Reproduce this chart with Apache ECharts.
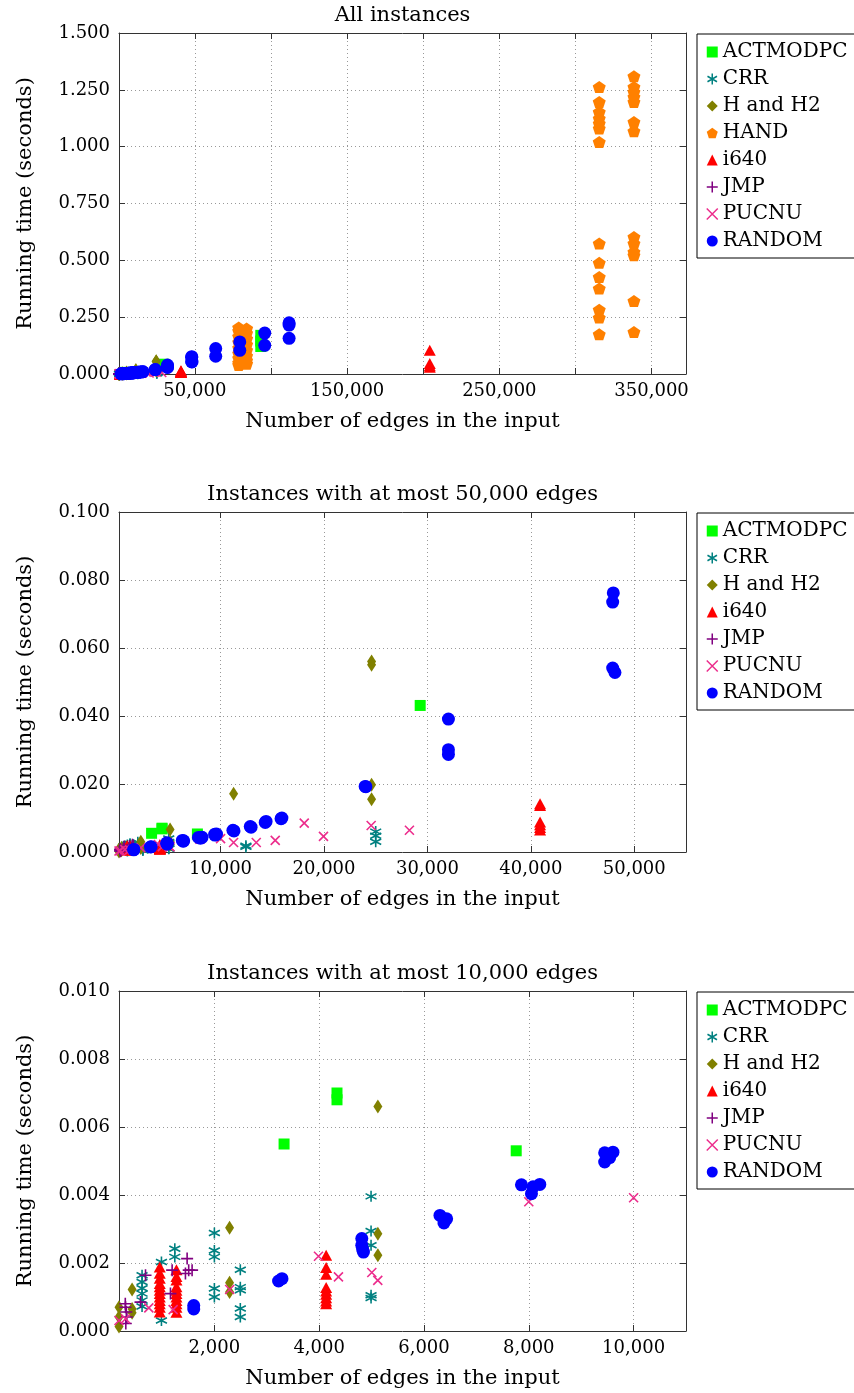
<!DOCTYPE html>
<html><head><meta charset="utf-8">
<script src="https://cdn.jsdelivr.net/npm/echarts@6/dist/echarts.min.js"></script>
<style>html,body{margin:0;padding:0;background:#fff}#c{width:854px;height:1393px}</style>
</head><body><div id="c"></div>
<script>
// ---------- data: [number of edges, running time in seconds] ----------
const families = ['ACTMODPC','CRR','H and H2','HAND','i640','JMP','PUCNU','RANDOM'];

const ACTMODPC = [[3330,0.0055],[4340,0.0070],[4340,0.0068],[7760,0.0053],[29300,0.0431],
  [93300,0.170],[93300,0.145],[93300,0.121]];

const CRR = [[620,0.00164],[620,0.00144],[620,0.00126],[620,0.0011],[620,0.0009],[620,0.00072],
  [990,0.00203],[990,0.00031],[1245,0.00242],[1245,0.00218],
  [2000,0.00288],[2000,0.00237],[2000,0.00218],[2000,0.00125],[2000,0.001],
  [2495,0.0018],[2495,0.00129],[2495,0.0012],[2495,0.00066],[2495,0.00041],
  [4990,0.00396],[4990,0.00294],[4990,0.00252],[4990,0.00105],[4990,0.00097],
  [12450,0.00185],[12450,0.0015],[25000,0.006],[25000,0.0048],[25000,0.003]];

const H_AND_H2 = [[180,0.0007],[180,0.00041],[180,0.00013],[430,0.00122],[430,0.00065],[430,0.00054],
  [2290,0.00304],[2290,0.00142],[2290,0.00115],[5120,0.0066],[5120,0.00286],[5120,0.00223],
  [11260,0.0171],[24600,0.056],[24600,0.0551],[24600,0.0198],[24600,0.0155]];

const HAND = [[78800,0.205],[78800,0.19],[78800,0.165],[78800,0.14],[78800,0.115],[78800,0.09],[78800,0.07],[78800,0.05],[78800,0.04],
  [84000,0.2],[84000,0.18],[84000,0.155],[84000,0.13],[84000,0.105],[84000,0.08],[84000,0.06],[84000,0.045],
  [315600,1.263],[315600,1.197],[315600,1.153],[315600,1.124],[315600,1.102],[315600,1.080],[315600,1.021],
  [315600,0.574],[315600,0.489],[315600,0.427],[315600,0.376],[315600,0.283],[315600,0.248],[315600,0.175],
  [338400,1.310],[338400,1.263],[338400,1.241],[338400,1.219],[338400,1.197],[338400,1.109],[338400,1.068],
  [338400,0.603],[338400,0.574],[338400,0.537],[338400,0.522],[338400,0.321],[338400,0.185]];

const I640 = [[958,0.00188],[958,0.0017],[958,0.00155],[958,0.0014],[958,0.0013],[958,0.0012],[958,0.0011],[958,0.001],[958,0.0009],[958,0.0008],[958,0.0007],[958,0.00056],
  [1276,0.0018],[1276,0.0016],[1276,0.0015],[1276,0.0013],[1276,0.0012],[1276,0.0011],[1276,0.001],[1276,0.0009],[1276,0.0008],[1276,0.0007],[1276,0.00055],
  [4133,0.00223],[4133,0.00187],[4133,0.00167],[4133,0.00128],[4133,0.00118],[4133,0.00108],[4133,0.00098],[4133,0.00088],[4133,0.0008],
  [40890,0.0142],[40890,0.0137],[40890,0.0088],[40890,0.008],[40890,0.0072],[40890,0.0065],
  [204300,0.104],[204300,0.046],[204300,0.036],[204300,0.03]];

const JMP = [[300,0.0008],[305,0.0007],[320,0.00056],[330,0.00041],[310,0.00022],[590,0.00085],[686,0.00164],
  [1162,0.0011],[1194,0.00179],[1448,0.00169],[1480,0.00213],[1510,0.00179],[1575,0.00179]];

const PUCNU = [[180,0.00031],[305,0.00036],[749,0.00068],[1213,0.00063],[2292,0.00122],[3987,0.0022],
  [4368,0.00159],[5004,0.00172],[5118,0.00149],[8000,0.0038],[10000,0.00392],[11257,0.0028],
  [13450,0.0028],[15285,0.0034],[18090,0.0085],[19950,0.0046],[24560,0.0078],[28260,0.0064]];

const RANDOM = [[1606,0.00075],[1606,0.00065],[3225,0.00147],[3290,0.00154],
  [4813,0.00272],[4813,0.00252],[4830,0.0024],[4845,0.00232],[6305,0.0034],[6432,0.0033],[6381,0.00318],
  [7860,0.0043],[8082,0.00424],[8210,0.00431],[8051,0.00404],[9448,0.00524],[9606,0.00526],[9543,0.0051],[9448,0.00497],
  [11195,0.0064],[11300,0.0062],[12870,0.0075],[12950,0.0073],[14320,0.0087],[14400,0.009],[15930,0.01],[15850,0.0098],
  [23980,0.0193],[24050,0.0192],[32030,0.0391],[32030,0.0301],[32030,0.0287],
  [47970,0.0762],[47910,0.0735],[47910,0.0541],[48130,0.0528],
  [63700,0.112],[63700,0.078],[79500,0.141],[79500,0.104],[95900,0.18],[95900,0.126],
  [111900,0.225],[111900,0.215],[111900,0.157]];

// ---------- panels ----------
const panelTitles = ['All instances','Instances with at most 50,000 edges','Instances with at most 10,000 edges'];
const edgeLimits = [Infinity, 50000, 10000];
const xMins = [180, 180, 180];
const xMaxs = [372600, 55000, 11000];
const yMaxs = [1.5, 0.1, 0.01];
const ySteps = [0.25, 0.02, 0.002];
const xTicks = [[50000,100000,150000,200000,250000,300000,350000],[10000,20000,30000,40000,50000],[2000,4000,6000,8000,10000]];
const xTickLabels = [[50000,150000,250000,350000],[10000,20000,30000,40000,50000],[2000,4000,6000,8000,10000]];
const xName = 'Number of edges in the input';
const yName = 'Running time (seconds)';

// ---------- layout / style ----------
const seriesData = {'ACTMODPC':ACTMODPC,'CRR':CRR,'H and H2':H_AND_H2,'HAND':HAND,'i640':I640,'JMP':JMP,'PUCNU':PUCNU,'RANDOM':RANDOM};
const STYLE = {
  'ACTMODPC': {symbol:'rect', size:11, color:'#00ff00'},
  'CRR': {symbol:'path://M5,0L5,10M0.67,2.5L9.33,7.5M0.67,7.5L9.33,2.5', size:11, color:'#008080', stroke:true},
  'H and H2': {symbol:'diamond', size:[9,14], color:'#808000'},
  'HAND': {symbol:'path://M50,0L97.55,34.55L79.39,90.45L20.61,90.45L2.45,34.55Z', size:[13,12], color:'#ff8000'},
  'i640': {symbol:'triangle', size:[12,11], color:'#ff0000'},
  'JMP': {symbol:'path://M5,0L5,10M0,5L10,5', size:12, color:'#800080', stroke:true},
  'PUCNU': {symbol:'path://M0,0L10,10M0,10L10,0', size:9, color:'#ec2c8c', stroke:true},
  'RANDOM': {symbol:'circle', size:13, color:'#0000ff'}
};
const FONT = '"DejaVu Serif", serif';
const TOPS = [33, 512, 991];
const HEIGHTS = [341, 340, 340];
const TITLE_Y = [16, 495, 974];
const fmtInt = v => String(Math.round(v)).replace(/\B(?=(\d{3})+(?!\d))/g, ',');

const grid=[], xAxis=[], yAxis=[], series=[], legend=[], graphic=[];
const axisLine = {show:true, onZero:false, lineStyle:{color:'#333', width:1}};
const split = {show:true, lineStyle:{color:'#999', type:[1,3], width:1}};
const tickStyle = {color:'#333', width:1};

for (let i=0;i<3;i++){
  grid.push({left:119, top:TOPS[i], width:567, height:HEIGHTS[i], containLabel:false, outerBoundsMode:'none'});
  xAxis.push({gridIndex:i, type:'value', position:'bottom', min:xMins[i], max:xMaxs[i],
    axisLine, axisTick:{show:true, inside:true, length:6, lineStyle:tickStyle, customValues:xTicks[i]},
    axisLabel:{customValues:xTickLabels[i], formatter:v=>fmtInt(v), fontFamily:FONT, fontSize:18, lineHeight:18, color:'#000', margin:8},
    splitLine:split,
    name:xName, nameLocation:'middle', nameGap:37, nameMoveOverlap:false,
    nameTextStyle:{fontFamily:FONT, fontSize:21, lineHeight:21, color:'#000'}});
  xAxis.push({gridIndex:i, type:'value', position:'top', min:xMins[i], max:xMaxs[i],
    axisLine, axisTick:{show:true, inside:true, length:6, lineStyle:tickStyle, customValues:xTicks[i]},
    axisLabel:{show:false}, splitLine:{show:false}});
  yAxis.push({gridIndex:i, type:'value', position:'left', min:0, max:yMaxs[i], interval:ySteps[i],
    axisLine, axisTick:{show:true, inside:true, length:6, lineStyle:tickStyle},
    axisLabel:{formatter:v=>v.toFixed(3), fontFamily:FONT, fontSize:18, color:'#000', margin:9},
    splitLine:split,
    name:yName, nameLocation:'middle', nameGap:83, nameMoveOverlap:false,
    nameTextStyle:{fontFamily:FONT, fontSize:21, lineHeight:21, color:'#000'}});
  yAxis.push({gridIndex:i, type:'value', position:'right', min:0, max:yMaxs[i], interval:ySteps[i],
    axisLine, axisTick:{show:true, inside:true, length:6, lineStyle:tickStyle},
    axisLabel:{show:false}, splitLine:{show:false}});

  const names = [];
  families.forEach(n=>{
    const d = seriesData[n].filter(p=>p[0] <= edgeLimits[i] && p[1] <= yMaxs[i]);
    if (!d.length) return;
    names.push(n);
    const s = STYLE[n];
    series.push({type:'scatter', name:n, xAxisIndex:2*i, yAxisIndex:2*i, data:d, clip:false,
      symbol:s.symbol, symbolSize:s.size,
      itemStyle: s.stroke ? {color:'rgba(0,0,0,0)', borderColor:s.color, borderWidth:1.6, opacity:1}
                          : {color:s.color, borderWidth:0, opacity:1},
      emphasis:{disabled:true}, silent:true});
  });
  legend.push({orient:'vertical', left:697, top:TOPS[i]+1, padding:[8,30,7,9], itemGap:7,
    itemWidth:11, itemHeight:11, borderColor:'#000', borderWidth:1, backgroundColor:'#fff',
    selectedMode:false,
    textStyle:{fontFamily:FONT, fontSize:20, lineHeight:20, color:'#000'},
    data:names.map(n=>{const s=STYLE[n]; return {name:n, icon:s.symbol,
      itemStyle: s.stroke ? {color:'rgba(0,0,0,0)', borderColor:s.color, borderWidth:1.5}
                          : {color:s.color, borderWidth:0}};})});
  graphic.push({type:'text', x:402.5, y:TITLE_Y[i], silent:true,
    style:{text:panelTitles[i], fontFamily:FONT, fontSize:21, fill:'#000', align:'center', verticalAlign:'middle'}});
}

const chart = echarts.init(document.getElementById('c'), null, {renderer:'canvas', width:854, height:1393});
chart.setOption({animation:false, backgroundColor:'#fff', grid, xAxis, yAxis, series, legend, graphic});
</script></body></html>
